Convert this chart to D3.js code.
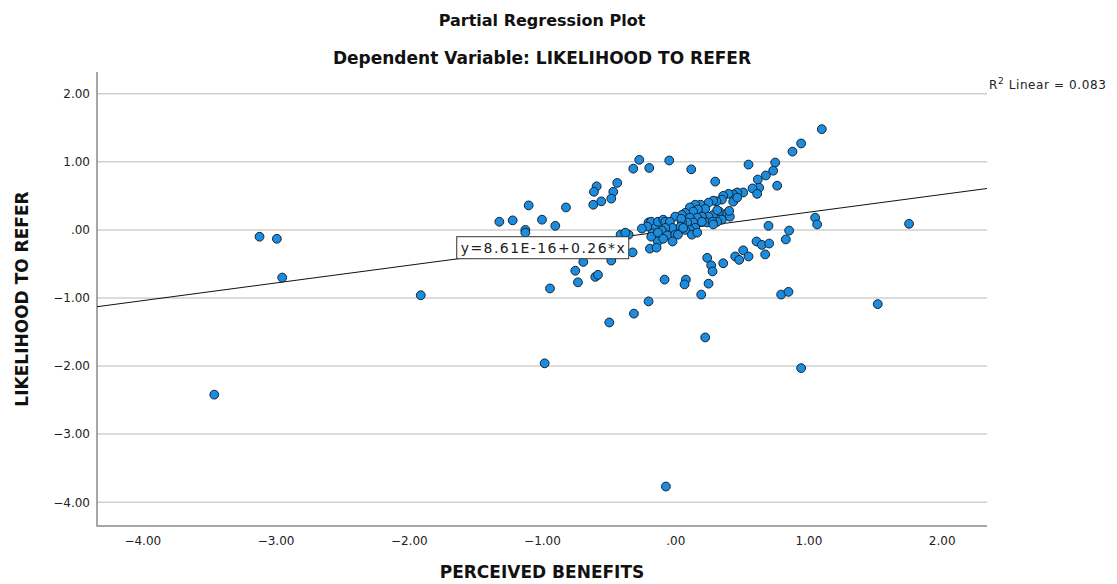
<!DOCTYPE html>
<html>
<head>
<meta charset="utf-8">
<script src="https://cdn.jsdelivr.net/npm/d3@7"></script>
<style>
  body { margin: 0; background: #fff; }
  svg { display: block; }
  .tick text { font-family: 'DejaVu Sans', sans-serif; font-size: 12px; fill: #222; }
  .title { font-family: 'DejaVu Sans', sans-serif; font-weight: bold; fill: #111; }
</style>
</head>
<body>
<svg></svg>
<script>
const WIDTH = 1117
const HEIGHT = 584
const PLOT = { left: 97, right: 987, top: 72, bottom: 526 }

// partial residuals
const xValues = [
  -3.46, -3.12, -2.99, -2.95, -1.91, -0.98, -0.07, 0.945, 1.52, 1.755, 1.10,
  -1.32, -1.22, -1.10, -1.00, -0.90, -1.125, -1.125, -0.82, -0.94, -0.75, -0.73, -0.60, -0.58, -0.69, -0.48, -0.495, -0.31, -0.20,
  -0.59, -0.61, -0.435, -0.465, -0.48, -0.555, -0.615, -0.27, -0.315, -0.195, -0.045, 0.12, 0.30, 0.55, 0.75, 0.735, 0.68, 0.62, 0.63, 0.765, 0.58, 0.945, 0.88,
  0.51, 0.465, 0.435, 0.40, 0.36, 0.35, 0.31, 0.285, 0.25, 0.19, 0.15, 0.11, 0.225, 0.17, 0.135, 0.075, 0.05, 0.435, 0.465, 0.33, 0.39, 0.41, 0.285, 0.25, 0.20, 0.165, 0.11,
  0.35, 0.315, 0.24, 0.20, 0.135, 0.09, 0.05, 0.15, 0.11, 0.075, 0.125, 0.165, 0.28, 0.285, 0.315, 0.405, 0.615,
  -0.20, -0.18, -0.15, -0.17, -0.18, -0.13, -0.09, -0.075, 0.00, 0.045, -0.04, -0.02, -0.075, -0.10, -0.13, -0.06, 0.00, 0.02, -0.02, -0.13, -0.19, -0.14, 0.04, 0.06,
  -0.32, -0.35, -0.41, -0.375, -0.21, -0.25,
  -0.08, 0.08, 0.07, 0.195, 0.25, 0.225, 0.24, 0.27, 0.28, 0.36, 0.45, 0.48, 0.51, 0.55, 0.675, 0.61, 0.65, 0.705, 0.83, 0.855, 1.05, 1.065, 0.795, 0.85, 0.70, -0.09
]
const yValues = [
  -2.42, -0.10, -0.13, -0.70, -0.96, -1.96, -3.77, -2.03, -1.09, 0.09, 1.48,
  0.12, 0.14, 0.36, 0.15, 0.06, 0.00, -0.04, 0.33, -0.86, -0.60, -0.77, -0.69, -0.66, -0.47, -0.45, -1.36, -1.23, -1.05,
  0.64, 0.56, 0.69, 0.56, 0.46, 0.42, 0.37, 1.03, 0.90, 0.91, 1.02, 0.89, 0.71, 0.96, 0.99, 0.87, 0.80, 0.74, 0.62, 0.65, 0.61, 1.27, 1.15,
  0.55, 0.55, 0.52, 0.53, 0.50, 0.445, 0.42, 0.43, 0.40, 0.37, 0.37, 0.33, 0.31, 0.30, 0.27, 0.25, 0.22, 0.415, 0.475, 0.27, 0.25, 0.195, 0.22, 0.195, 0.195, 0.18, 0.18,
  0.15, 0.12, 0.11, 0.12, 0.11, 0.11, 0.11, 0.03, 0.00, 0.00, -0.07, -0.04, 0.12, 0.08, 0.29, 0.28, 0.53,
  0.11, 0.12, 0.03, -0.05, -0.10, 0.12, 0.15, 0.12, 0.195, 0.165, 0.12, 0.03, 0.03, -0.01, -0.04, -0.08, -0.07, -0.07, -0.17, -0.17, -0.275, -0.26, 0.05, 0.03,
  -0.33, -0.07, -0.07, -0.04, 0.05, 0.02,
  -0.73, -0.73, -0.80, -0.95, -0.79, -1.58, -0.41, -0.52, -0.61, -0.49, -0.39, -0.44, -0.30, -0.39, -0.36, -0.17, -0.22, -0.20, -0.14, -0.01, 0.18, 0.08, -0.95, -0.91, 0.06, -0.13
]

const fitIntercept = 8.61e-16
const fitSlope = 0.26
const rSquared = 0.083

const xTicks = [-4, -3, -2, -1, 0, 1, 2]
const yTicks = [2, 1, 0, -1, -2, -3, -4]

const svg = d3.select('svg').attr('width', WIDTH).attr('height', HEIGHT)

const xScale = d3.scaleLinear().domain([-4.34, 2.34]).range([PLOT.left, PLOT.right])
const yScale = d3.scaleLinear().domain([-4.35, 2.32]).range([PLOT.bottom, PLOT.top])

const fmt = d => d === 0 ? '.00' : d3.format('.2f')(d)

// gridlines
svg.append('g').selectAll('line')
  .data(yTicks)
  .join('line')
  .attr('x1', PLOT.left).attr('x2', PLOT.right)
  .attr('y1', d => yScale(d)).attr('y2', d => yScale(d))
  .attr('stroke', '#cfcfcf').attr('stroke-width', 1.5)

// axes
const yAxis = svg.append('g')
  .attr('transform', `translate(${PLOT.left - 4},0)`)
  .call(d3.axisLeft(yScale).tickValues(yTicks).tickFormat(fmt).tickSize(0))
yAxis.select('.domain').remove()

const xAxis = svg.append('g')
  .attr('transform', `translate(0,${PLOT.bottom + 7})`)
  .call(d3.axisBottom(xScale).tickValues(xTicks).tickFormat(fmt).tickSize(0))
xAxis.select('.domain').remove()

svg.append('path')
  .attr('d', `M${PLOT.left},${PLOT.top}V${PLOT.bottom}H${PLOT.right}`)
  .attr('fill', 'none').attr('stroke', '#8a8a8a').attr('stroke-width', 1.5)

// fit line
svg.append('defs').append('clipPath').attr('id', 'plotClip')
  .append('rect')
  .attr('x', PLOT.left).attr('y', PLOT.top)
  .attr('width', PLOT.right - PLOT.left).attr('height', PLOT.bottom - PLOT.top)

const [x0, x1] = xScale.domain()
svg.append('line')
  .attr('clip-path', 'url(#plotClip)')
  .attr('x1', xScale(x0)).attr('y1', yScale(fitIntercept + fitSlope * x0))
  .attr('x2', xScale(x1)).attr('y2', yScale(fitIntercept + fitSlope * x1))
  .attr('stroke', '#111').attr('stroke-width', 1)

// points
svg.append('g').selectAll('circle')
  .data(d3.zip(xValues, yValues))
  .join('circle')
  .attr('cx', d => xScale(d[0]))
  .attr('cy', d => yScale(d[1]))
  .attr('r', 4.4)
  .attr('fill', '#1a8de0')
  .attr('stroke', '#15222e')
  .attr('stroke-width', 1)

// equation label
const eqBox = svg.append('g').attr('transform', `translate(${xScale(-1.64)},${yScale(-0.10)})`)
eqBox.append('rect')
  .attr('width', 172).attr('height', 22)
  .attr('fill', '#fff').attr('stroke', '#333').attr('stroke-width', 1)
eqBox.append('text')
  .attr('x', 4).attr('y', 16)
  .attr('font-family', 'DejaVu Sans, sans-serif').attr('font-size', 14)
  .attr('textLength', 164).attr('lengthAdjust', 'spacing')
  .attr('fill', '#222')
  .text(`y=8.61E-16+${fitSlope}*x`)

// r squared
const r2 = svg.append('text')
  .attr('x', PLOT.right + 2).attr('y', 89)
  .attr('font-family', 'DejaVu Sans, sans-serif').attr('font-size', 12)
  .attr('letter-spacing', 0.6)
  .attr('fill', '#222')
r2.append('tspan').text('R')
r2.append('tspan').attr('dy', -5).attr('font-size', 9).text('2')
r2.append('tspan').attr('dy', 5).text(` Linear = ${d3.format('.3f')(rSquared)}`)

// titles
const cx = (PLOT.left + PLOT.right) / 2
svg.append('text').attr('class', 'title')
  .attr('x', cx).attr('y', 26).attr('text-anchor', 'middle').attr('font-size', 16)
  .text('Partial Regression Plot')
svg.append('text').attr('class', 'title')
  .attr('x', cx).attr('y', 64).attr('text-anchor', 'middle').attr('font-size', 17)
  .text('Dependent Variable: LIKELIHOOD TO REFER')
svg.append('text').attr('class', 'title')
  .attr('x', cx).attr('y', 578).attr('text-anchor', 'middle').attr('font-size', 17)
  .text('PERCEIVED BENEFITS')
svg.append('text').attr('class', 'title')
  .attr('transform', `translate(28,${(PLOT.top + PLOT.bottom) / 2}) rotate(-90)`)
  .attr('text-anchor', 'middle').attr('font-size', 17)
  .text('LIKELIHOOD TO REFER')
</script>
</body>
</html>
